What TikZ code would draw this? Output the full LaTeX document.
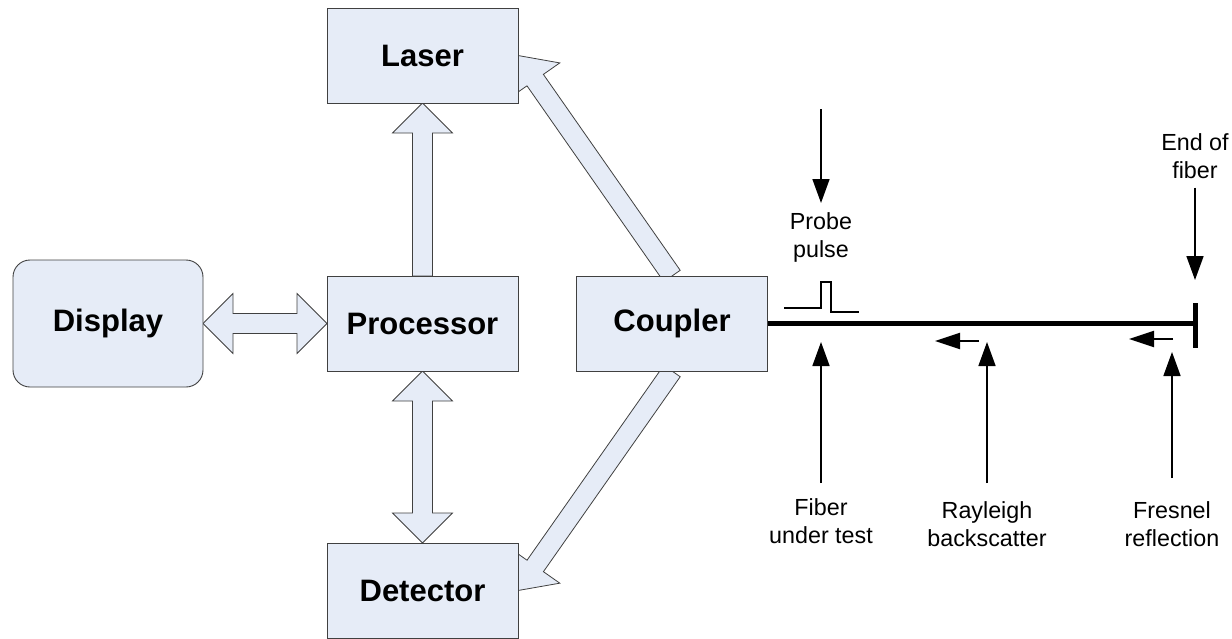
\documentclass[tikz,border=0pt]{standalone}
\usepackage{fontspec}
\setmainfont{Liberation Sans}
\usetikzlibrary{calc,arrows.meta,backgrounds}
\definecolor{boxfill}{RGB}{230,236,247}
\definecolor{boxline}{RGB}{64,64,64}

% geometry of the hollow block arrows
\def\shaftw{10pt}\def\headw{30pt}\def\headl{30pt}
% single-headed block arrow from #1 to #2
\newcommand\blockarrow[2]{%
  \coordinate (ba-hb) at ($(#2)!\headl!(#1)$);
  \filldraw[block] ($(#1)!\shaftw!90:(#2)$) -- ($(ba-hb)!\shaftw!90:(#2)$)
    -- ($(ba-hb)!\headw!90:(#2)$) -- (#2) -- ($(ba-hb)!\headw!-90:(#2)$)
    -- ($(ba-hb)!\shaftw!-90:(#2)$) -- ($(#1)!\shaftw!-90:(#2)$) -- cycle;}
% double-headed block arrow between #1 and #2
\newcommand\blockdouble[2]{%
  \coordinate (ba-ha) at ($(#1)!\headl!(#2)$);
  \coordinate (ba-hb) at ($(#2)!\headl!(#1)$);
  \filldraw[block] (#1) -- ($(ba-ha)!\headw!90:(#2)$) -- ($(ba-ha)!\shaftw!90:(#2)$)
    -- ($(ba-hb)!\shaftw!90:(#2)$) -- ($(ba-hb)!\headw!90:(#2)$) -- (#2)
    -- ($(ba-hb)!\headw!-90:(#2)$) -- ($(ba-hb)!\shaftw!-90:(#2)$)
    -- ($(ba-ha)!\shaftw!-90:(#2)$) -- ($(ba-ha)!\headw!-90:(#2)$) -- cycle;}

\tikzset{
  unit/.style={draw=boxline, fill=boxfill, line width=0.9pt, inner sep=0pt, outer sep=0pt,
    minimum width=191pt, minimum height=95pt,
    font=\fontsize{31}{36}\selectfont\bfseries},
  block/.style={draw=boxline, fill=boxfill, line width=0.8pt, line join=miter},
  lbl/.style={inner sep=0pt, outer sep=0pt, align=center, font=\fontsize{23.3}{27.5}\selectfont},
  pointer/.style={line width=1.6pt, -{Triangle[length=24pt,width=17pt]}},
  backarrow/.style={line width=2pt, -{Triangle[length=25pt,width=16pt]}},
  fiber/.style={line width=5pt}
}

\begin{document}
\begin{tikzpicture}[x=1pt,y=-1pt]
\useasboundingbox (0,0) rectangle (1232,638);

% functional blocks
\node[unit] (laser) at (422.5,55.5) {Laser};
\node[unit] (processor) at (422.5,323.5) {Processor};
\node[unit] (coupler) at (672,323.5) {Coupler};
\node[unit] (detector) at (422.5,590.5) {Detector};
\node[unit, rounded corners=17pt, minimum width=190pt, minimum height=127pt] (display) at (108,323.5) {Display};

% block arrows behind the boxes
\begin{scope}[on background layer]
  \blockdouble{display.east}{processor.west}
  \blockarrow{processor.north}{laser.south}
  \blockdouble{processor.south}{detector.north}
  \blockarrow{coupler.north}{laser.east}
  \blockarrow{coupler.south}{detector.east}
\end{scope}

% fiber under test with its far end
\coordinate (fend) at (1195,323.5);
\coordinate (bartop) at (1195,303);
\coordinate (barbot) at (1195,348);
\draw[fiber] (coupler.east) -- (fend);
\draw[fiber] (bartop) -- (barbot);

% probe pulse
\draw[line width=1.5pt] (784,308) -- (821,308) -- (821,282) -- (831,282) -- (831,312) -- (859,312);

% returning light
\draw[backarrow] (979,341) -- (935,341);
\draw[backarrow] (1173,339) -- (1129,339);

% labels
\node[lbl, anchor=north] (pp) at (821,213) {Probe\\pulse};
\node[lbl, anchor=north] (fut) at (821,499) {Fiber\\under test};
\node[lbl, anchor=north] (ray) at (987,502) {Rayleigh\\backscatter};
\node[lbl, anchor=north] (fre) at (1172,502) {Fresnel\\reflection};
\node[lbl, anchor=north] (eof) at (1195,134) {End of\\fiber};

% pointers
\coordinate (pp-tail) at (821,109);
\coordinate (fut-tip) at (821,342);
\coordinate (ray-tip) at (987,342);
\coordinate (fre-tip) at (1172,352);
\coordinate (eof-tip) at (1195,280);
\draw[pointer] (pp-tail) -- ([yshift=10pt]pp.north);
\draw[pointer] ([yshift=16pt]fut.north) -- (fut-tip);
\draw[pointer] ([yshift=19pt]ray.north) -- (ray-tip);
\draw[pointer] ([yshift=24pt]fre.north) -- (fre-tip);
\draw[pointer] ([yshift=-9pt]eof.south) -- (eof-tip);
\end{tikzpicture}
\end{document}
